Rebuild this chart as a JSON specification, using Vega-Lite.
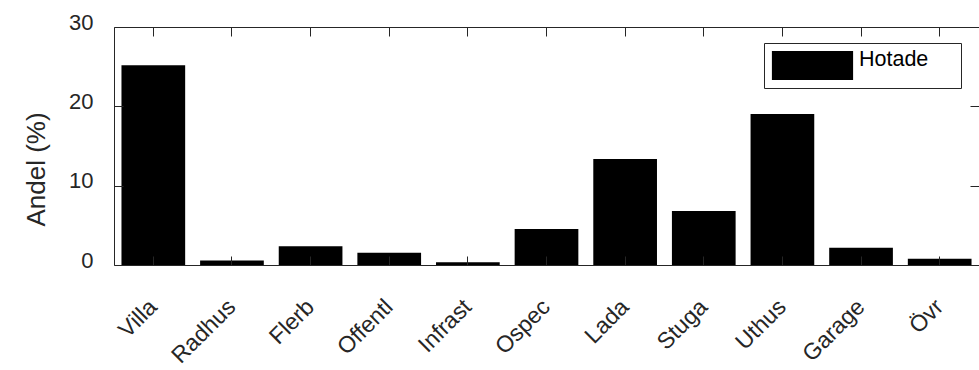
{
  "$schema": "https://vega.github.io/schema/vega-lite/v6.json",
  "width": 865,
  "height": 238,
  "autosize": {"type": "none"},
  "padding": {"left": 114, "top": 27, "right": 0, "bottom": 105},
  "background": "white",
  "config": {
    "view": {"stroke": null},
    "font": "Liberation Sans",
    "axis": {
      "grid": false,
      "zindex": 1,
      "ticks": true,
      "domainColor": "#262626",
      "tickColor": "#262626",
      "labelColor": "#262626",
      "titleColor": "#262626",
      "labelFont": "Liberation Sans",
      "titleFont": "Liberation Sans",
      "labelFontSize": 22,
      "tickSize": -9,
      "domainWidth": 1,
      "tickWidth": 1,
      "titleFontWeight": "normal"
    }
  },
  "data": {
    "values": [
      {"kategori": "Villa", "andel": 25.18, "serie": "Hotade"},
      {"kategori": "Radhus", "andel": 0.57, "serie": "Hotade"},
      {"kategori": "Flerb", "andel": 2.37, "serie": "Hotade"},
      {"kategori": "Offentl", "andel": 1.53, "serie": "Hotade"},
      {"kategori": "Infrast", "andel": 0.35, "serie": "Hotade"},
      {"kategori": "Ospec", "andel": 4.55, "serie": "Hotade"},
      {"kategori": "Lada", "andel": 13.36, "serie": "Hotade"},
      {"kategori": "Stuga", "andel": 6.82, "serie": "Hotade"},
      {"kategori": "Uthus", "andel": 19.02, "serie": "Hotade"},
      {"kategori": "Garage", "andel": 2.16, "serie": "Hotade"},
      {"kategori": "Övr", "andel": 0.78, "serie": "Hotade"}
    ]
  },
  "layer": [
    {
      "mark": {"type": "bar"},
      "encoding": {
        "x": {
          "field": "kategori", "type": "nominal", "sort": null,
          "scale": {"paddingInner": 0.19, "paddingOuter": 0.095},
          "axis": {"orient": "bottom", "zindex": 2, "title": null, "ticks": true, "tickSize": -9, "tickBand": "center", "labelAngle": -45, "labelAlign": "right", "labelBaseline": "middle", "labelPadding": 47, "labelFontSize": 23}
        },
        "y": {
          "field": "andel", "type": "quantitative",
          "scale": {"domain": [0, 30], "nice": false},
          "axis": {"orient": "left", "zindex": 2, "title": "Andel (%)", "values": [0, 10, 20, 30], "ticks": true, "tickSize": -9, "labelPadding": 30, "labelOffset": -5, "titleFontSize": 26, "titleX": -70, "titleY": 142, "titleBaseline": "alphabetic", "titleAngle": -90}
        },
        "fill": {
          "field": "serie", "type": "nominal",
          "scale": {"range": ["black"]},
          "legend": {
            "orient": "none", "legendX": 650, "legendY": 16,
            "title": "\u00a0", "titleOrient": "right", "titlePadding": 25, "titleFontSize": 1,
            "symbolType": "M-2.8,-1H2.8V1H-2.8Z", "symbolSize": 841, "symbolOffset": 26, "symbolStrokeWidth": 0,
            "labelOffset": 32, "labelFontSize": 21.5, "labelFont": "Liberation Sans", "labelColor": "#000000", "labelBaseline": "alphabetic",
            "padding": 8, "strokeColor": "#262626", "fillColor": "white"
          }
        }
      }
    },
    {
      "mark": {"type": "bar", "opacity": 0},
      "encoding": {
        "x": {
          "field": "kategori", "type": "nominal", "sort": null,
          "axis": {"orient": "top", "zindex": 2, "title": null, "labels": false, "ticks": true, "tickSize": -9}
        },
        "y": {
          "field": "andel", "type": "quantitative",
          "axis": {"orient": "right", "zindex": 2, "title": null, "labels": false, "values": [0, 10, 20, 30], "domain": false, "ticks": true, "tickSize": -9}
        }
      }
    }
  ],
  "resolve": {"axis": {"x": "independent", "y": "independent"}}
}
